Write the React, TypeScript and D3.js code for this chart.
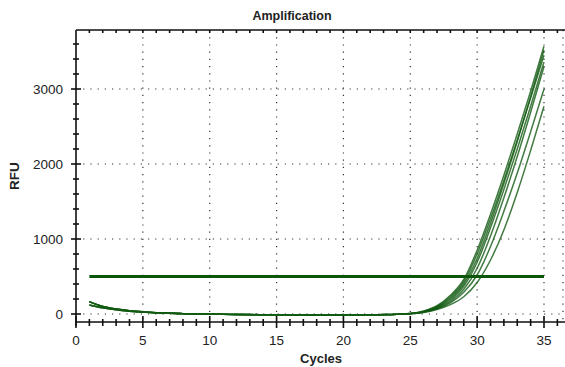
import React from 'react';
import * as d3 from 'd3';

// cycles 1..35
const cycles = d3.range(1, 36);

// shared baseline for cycles 1..25 (RFU, baseline-subtracted)
const baseA = [165, 100, 66, 44, 29, 18, 10, 5, 1, -2, -4, -6, -8, -9, -10, -11, -12, -12, -12, -12, -11, -10, -8, -4, 6];
const baseB = [120, 82, 56, 38, 25, 16, 9, 4, 0, -3, -5, -7, -9, -10, -11, -12, -13, -13, -13, -13, -12, -11, -9, -5, 3];

// late cycles 26..35 per well
const tail1 = [40, 110, 250, 460, 850, 1330, 1850, 2400, 2970, 3570];
const tail2 = [35, 100, 230, 430, 800, 1270, 1780, 2320, 2880, 3450];
const tail3 = [30, 90, 210, 400, 740, 1210, 1740, 2300, 2900, 3520];
const tail4 = [30, 85, 190, 370, 690, 1150, 1660, 2200, 2770, 3360];
const tail5 = [25, 75, 170, 330, 610, 1040, 1550, 2100, 2690, 3300];
const tail6 = [25, 70, 150, 290, 520, 900, 1370, 1880, 2430, 3000];
const tail7 = [20, 60, 125, 230, 420, 720, 1120, 1620, 2180, 2770];

const wells = [
  baseA.concat(tail1),
  baseB.concat(tail2),
  baseA.concat(tail3),
  baseB.concat(tail4),
  baseA.concat(tail5),
  baseB.concat(tail6),
  baseA.concat(tail7),
];

const threshold = 500;
const xTicks = [0, 5, 10, 15, 20, 25, 30, 35];
const yTicks = [0, 1000, 2000, 3000];

export default function App() {
  const W = 565;
  const H = 367;
  const x = d3.scaleLinear().domain([0, 35]).range([76, 544]);
  const y = d3.scaleLinear().domain([0, 3000]).range([314, 89]);
  const top = 30;
  const axisY = 322;
  const left = 76;
  const right = 563;

  const line = d3
    .line<number>()
    .x((d, i) => x(cycles[i]))
    .y(d => y(d))
    .curve(d3.curveMonotoneX);

  const minorX = d3.range(1, 37).filter(c => c % 5 !== 0);
  const minorY = d3.range(-0, 3800, 200).filter(v => v % 1000 !== 0);
  const font = "'Liberation Sans', Arial, sans-serif";
  const green = '#125a12';

  return (
    <svg width={W} height={H} style={{ position: 'absolute', left: 0, top: 0 }} fontFamily={font}>
      <rect width={W} height={H} fill="#fff" />
      <text x={292} y={20} textAnchor="middle" fontSize={12.5} fontWeight="bold" fill="#222">
        Amplification
      </text>

      {/* dotted grid */}
      <g stroke="#333" strokeWidth={1.2} strokeDasharray="1.2 6">
        {xTicks.filter(t => t > 0).map(t => (
          <line key={'gx' + t} x1={x(t)} x2={x(t)} y1={top} y2={axisY} />
        ))}
        <line x1={right} x2={right} y1={top} y2={axisY} />
        {yTicks.map(t => (
          <line key={'gy' + t} x1={left} x2={W} y1={y(t)} y2={y(t)} />
        ))}
      </g>

      {/* curves */}
      <g fill="none" stroke={green} strokeWidth={1.5} strokeOpacity={0.8}>
        {wells.map((w, i) => (
          <path key={i} d={line(w) || ''} />
        ))}
      </g>
      <line x1={x(1)} x2={x(35)} y1={y(threshold)} y2={y(threshold)} stroke="#0b560b" strokeWidth={3} />

      {/* axes */}
      <g stroke="#111" strokeWidth={1.6}>
        <line x1={left} x2={W} y1={top} y2={top} />
        <line x1={left} x2={left} y1={top} y2={326} />
        <line x1={left} x2={W} y1={axisY} y2={axisY} />
        {xTicks.map(t => (
          <line key={'tx' + t} x1={x(t)} x2={x(t)} y1={axisY - 6} y2={axisY + 6} />
        ))}
        {minorX.map(t => (
          <line key={'mx' + t} x1={x(t)} x2={x(t)} y1={axisY - 3} y2={axisY + 4} />
        ))}
        {d3.range(1, 37).map(t => (
          <line key={'mt' + t} x1={x(t)} x2={x(t)} y1={top} y2={top + 3} />
        ))}
        {yTicks.map(t => (
          <line key={'ty' + t} x1={left - 5} x2={left + 5} y1={y(t)} y2={y(t)} />
        ))}
        {minorY.map(t => (
          <line key={'my' + t} x1={left - 3} x2={left + 3} y1={y(t)} y2={y(t)} />
        ))}
      </g>

      <g fontSize={13.5} fill="#222">
        {xTicks.map(t => (
          <text key={'lx' + t} x={x(t)} y={345} textAnchor="middle">
            {t}
          </text>
        ))}
        {yTicks.map(t => (
          <text key={'ly' + t} x={63} y={y(t) + 5} textAnchor="end">
            {t}
          </text>
        ))}
      </g>
      <text x={321} y={363} textAnchor="middle" fontSize={13} fontWeight="bold" fill="#222">
        Cycles
      </text>
      <text
        transform="translate(19,176) rotate(-90)"
        textAnchor="middle"
        fontSize={13.5}
        fontWeight="bold"
        fill="#222"
      >
        RFU
      </text>
    </svg>
  );
}
